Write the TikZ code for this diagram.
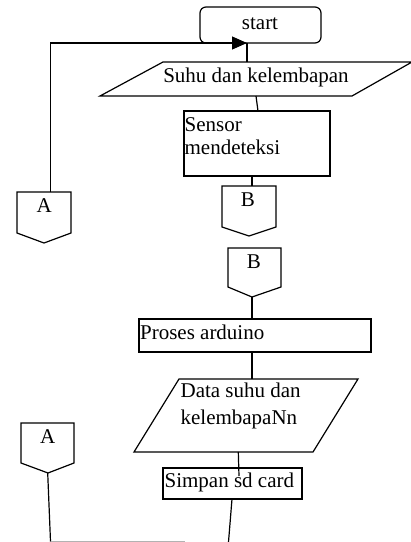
\documentclass[tikz,border=0pt]{standalone}
\usepackage{fontspec}
\setmainfont{Liberation Serif}
\usetikzlibrary{arrows.meta}
\begin{document}
\begin{tikzpicture}[x=1pt,y=-1pt,line width=1.2pt,
    txt/.style={inner sep=0pt,font=\fontsize{21}{22.5}\selectfont},
    wide/.style={inner sep=0pt,font=\fontsize{21}{27}\selectfont}]
\useasboundingbox (0,0) rectangle (411,542);
% shapes
\draw[rounded corners=6pt] (200,7) rectangle (321,43);
\draw (163,62) -- (412,62) -- (352,96) -- (100,96) -- cycle;
\draw (184,111) rectangle (330,176);
\draw (222,186) -- (276,186) -- (276,227) -- (249,236) -- (222,227) -- cycle;
\draw (17,192) -- (71,192) -- (71,233) -- (44,243) -- (17,233) -- cycle;
\draw (228,248) -- (281,248) -- (281,287) -- (252,297) -- (228,287) -- cycle;
\draw (139,319) rectangle (371,352);
\draw (179,379) -- (358,379) -- (313,452) -- (134,452) -- cycle;
\draw (163,468) rectangle (302,499);
\draw (21,423) -- (74,423) -- (74,463) -- (48,473) -- (21,463) -- cycle;
% texts
\node[txt,anchor=base] (start) at (260,29.3) {start};
\node[txt,anchor=base] (suhu) at (256,82.7) {Suhu dan kelembapan};
\node[txt,anchor=base west,align=left] (sensor) at (184,154) {Sensor\\mendeteksi};
\node[txt,anchor=base] (b1) at (248,206) {B};
\node[txt,anchor=base] (a1) at (44.3,212.3) {A};
\node[txt,anchor=base] (b2) at (254,268.3) {B};
\node[txt,anchor=base west] (proses) at (139.5,339.3) {Proses arduino};
\node[wide,anchor=base west,align=left] (data) at (180,424) {Data suhu dan\\kelembapaNn};
\node[txt,anchor=base west] (simpan) at (164,487.3) {Simpan sd card};
\node[txt,anchor=base] (a2) at (47.7,443.3) {A};
% connector ends
\coordinate (startout) at (247,43);
\coordinate (suhuin) at (247,62);
\coordinate (suhuout) at (256,96);
\coordinate (sensorin) at (258,111);
\coordinate (sensorout) at (252,176);
\coordinate (b1in) at (252,186);
\coordinate (a1in) at (50.5,192);
\coordinate (b2out) at (252,297);
\coordinate (prosesin) at (252,319);
\coordinate (prosesout) at (252,352);
\coordinate (datain) at (252,379);
\coordinate (dataout) at (238.3,452);
\coordinate (simpanin) at (239,476);
\coordinate (simpanout) at (232,499);
\coordinate (endout) at (228.5,542);
\coordinate (a2out) at (47.7,473);
\coordinate (loopend) at (50.5,541.5);
\coordinate (loopfade) at (185,541.5);
% connectors
\draw[-{Triangle[length=15pt,width=13pt]}] (a1in) |- (startout);
\draw (startout) -- (suhuin);
\draw (suhuout) -- (sensorin);
\draw (sensorout) -- (b1in);
\draw (b2out) -- (prosesin);
\draw (prosesout) -- (datain);
\draw (dataout) -- (simpanin);
\draw (simpanout) -- (endout);
\draw (a2out) -- (loopend);
\draw[gray!60] (loopend) -- (loopfade);
\end{tikzpicture}
\end{document}
